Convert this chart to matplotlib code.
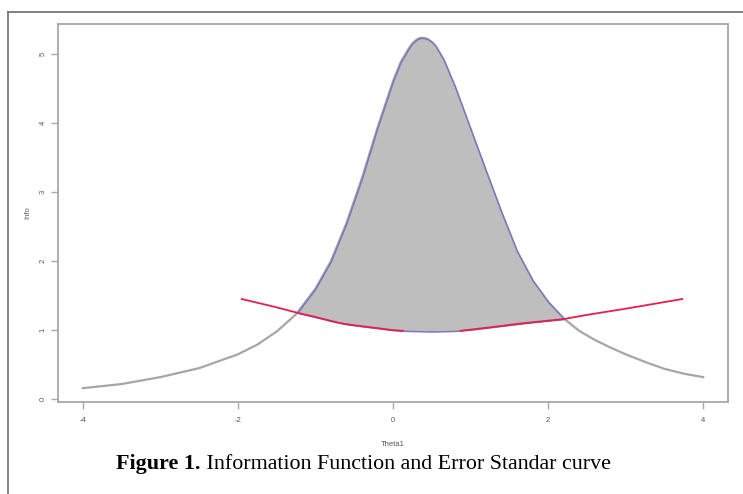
import numpy as np
import matplotlib
matplotlib.use("Agg")
import matplotlib.pyplot as plt
from matplotlib.lines import Line2D

# test information curve
theta_info = [-4.0, -3.5, -3.0, -2.5, -2.0, -1.75, -1.5, -1.25, -1.0, -0.8,
              -0.6, -0.4, -0.2, 0.0, 0.1, 0.2, 0.25, 0.3, 0.34, 0.37,
              0.41, 0.45, 0.5, 0.55, 0.65, 0.8, 1.0, 1.2, 1.4, 1.6,
              1.8, 2.0, 2.2, 2.4, 2.6, 2.8, 3.0, 3.25, 3.5, 3.75, 4.0]
info = [0.16, 0.22, 0.32, 0.45, 0.65, 0.79, 0.98, 1.23, 1.60, 2.00,
        2.55, 3.20, 3.93, 4.60, 4.88, 5.07, 5.15, 5.20, 5.225, 5.23,
        5.225, 5.21, 5.17, 5.11, 4.92, 4.52, 3.91, 3.30, 2.70, 2.14,
        1.72, 1.41, 1.17, 0.99, 0.86, 0.75, 0.65, 0.54, 0.44, 0.37, 0.32]

# standard error curve
theta_se = [-1.95, -1.5, -1.23, -1.0, -0.68, -0.5, -0.21, 0.0, 0.13,
            0.5, 0.87, 1.25, 1.68, 2.2, 2.5, 3.0, 3.73]
se = [1.45, 1.33, 1.25, 1.19, 1.10, 1.07, 1.03, 1.00, 0.99,
      0.98, 0.99, 1.04, 1.10, 1.16, 1.22, 1.31, 1.45]

x_ticks = [-4, -2, 0, 2, 4]
y_ticks = [0, 1, 2, 3, 4, 5]
caption_bold = "Figure 1."
caption_rest = " Information Function and Error Standar curve"

ti = np.array(theta_info)
iv = np.array(info)
ts = np.array(theta_se)
sv = np.array(se)

fig = plt.figure(figsize=(7.43, 4.94), dpi=100)
ax = fig.add_axes([58/743, 1-402/494, (728-58)/743, (402-24)/494])

# outer frame (only left and top edges show in the crop)
fig.add_artist(Line2D([8/743, 8/743], [0, 1-12/494], transform=fig.transFigure,
                      color="#777777", lw=1.3))
fig.add_artist(Line2D([8/743, 1], [1-12/494, 1-12/494], transform=fig.transFigure,
                      color="#777777", lw=1.3))

ax.plot(ti, iv, color="#a6a6a6", lw=1.6, zorder=2)

# shaded area between the info curve and the SE curve
se_on_info = np.interp(ti, ts, sv, left=np.nan, right=np.nan)
ax.fill_between(ti, iv, se_on_info, where=iv >= se_on_info, interpolate=True,
                facecolor="#bebebe", edgecolor="#7878bf", lw=1.1, zorder=3)

# red line, with the small gap near the minimum where the blue edge shows
left = ts <= 0.13
right = ts >= 0.87
ax.plot(ts[left], sv[left], color="#e3204a", lw=1.3, zorder=4)
ax.plot(ts[right], sv[right], color="#e3204a", lw=1.3, zorder=4)

ax.set_xlim(-4.32, 4.32)
ax.set_ylim(-0.04, 5.43)
ax.set_xticks(x_ticks)
ax.set_yticks(y_ticks)
ax.set_xticklabels([str(v) for v in x_ticks])
ax.set_yticklabels([str(v) for v in y_ticks], rotation=90, va="center")

for s in ax.spines.values():
    s.set_color("#a8a8a8")
    s.set_linewidth(1.3)
ax.tick_params(axis="both", colors="#a8a8a8", length=5, width=1.0,
               labelsize=5.5, labelcolor="#555555")
ax.tick_params(axis="x", pad=6)
ax.tick_params(axis="y", pad=3)

ax.set_xlabel("Theta1", fontsize=5.5, color="#555555", labelpad=12,
              family="Liberation Sans")
ax.set_ylabel("Info", fontsize=5.5, color="#555555", labelpad=6,
              family="Liberation Sans")
for lab in ax.get_xticklabels() + ax.get_yticklabels():
    lab.set_family("Liberation Sans")

# caption in two parts: bold prefix then regular text
t1 = fig.text(116/743, 1-464/494, caption_bold, fontsize=15.8, weight="bold",
              family="Liberation Serif", va="center", ha="left")
fig.canvas.draw()
bb = t1.get_window_extent()
fig.text(bb.x1/743, 1-464/494, caption_rest, fontsize=15.8,
         family="Liberation Serif", va="center", ha="left")

fig.savefig("out.png", dpi=100)
